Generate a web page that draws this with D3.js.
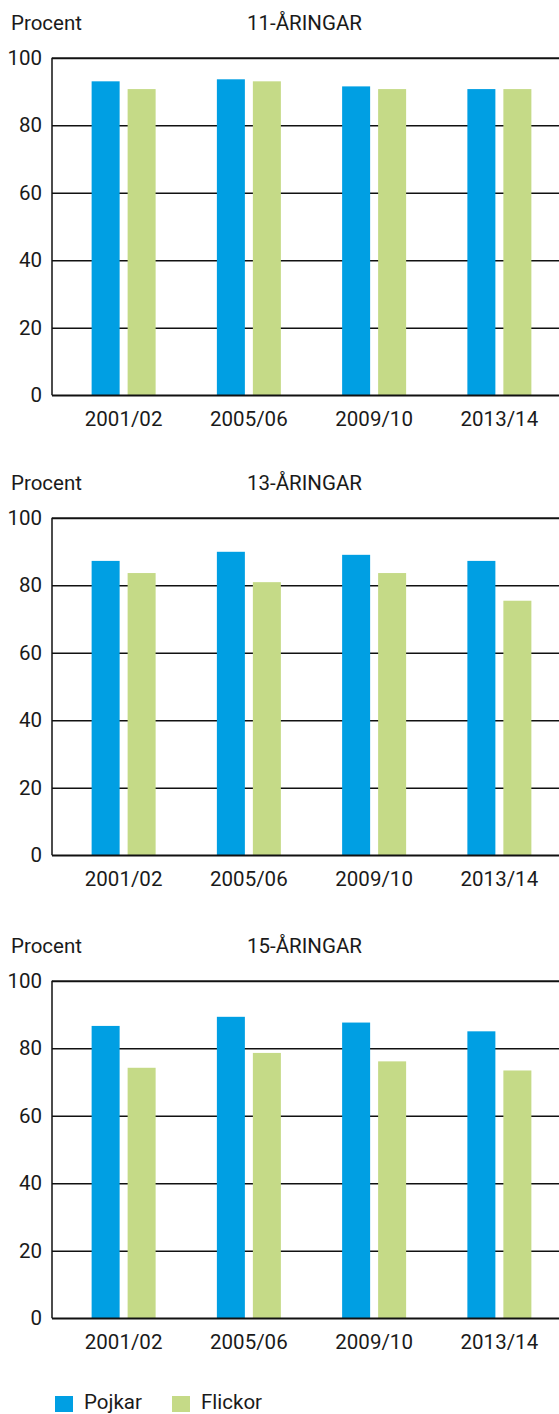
<!DOCTYPE html>
<html>
<head>
<meta charset="utf-8">
<script src="https://cdn.jsdelivr.net/npm/d3@7"></script>
<style>
  body { margin: 0; background: #fff; }
  svg text { font-family: Roboto, "Noto Sans", sans-serif; fill: #1a1a1a; }
</style>
</head>
<body>
<div class="chart"></div>
<script>
// data
var periods = ["2001/02", "2005/06", "2009/10", "2013/14"];
var panelTitles = ["11-ÅRINGAR", "13-ÅRINGAR", "15-ÅRINGAR"];
var seriesNames = ["Pojkar", "Flickor"];
var pojkar11 = [93, 93.6, 91.5, 90.7];
var flickor11 = [90.7, 93, 90.7, 90.7];
var pojkar13 = [87.2, 89.9, 89, 87.2];
var flickor13 = [83.6, 80.9, 83.6, 75.4];
var pojkar15 = [86.6, 89.3, 87.6, 85];
var flickor15 = [74.2, 78.6, 76.1, 73.4];
var yTicks = [0, 20, 40, 60, 80, 100];

var panelData = [
  [pojkar11, flickor11],
  [pojkar13, flickor13],
  [pojkar15, flickor15]
];

var svgWidth = 559;
var svgHeight = 1414;
var colors = ["#009fe3", "#c5da87"];
var fontSize = "20.5px";

var axisX = 52;
var plotHeight = 337.5;
var panelTops = [57.7, 517.7, 980.7];

var svg = d3.select(".chart")
  .append("svg")
  .attr("width", svgWidth)
  .attr("height", svgHeight);

// category scale and inner scale for the two bars
var x0 = d3.scaleBand()
  .domain(periods)
  .range([61, 562]);

var x1 = d3.scaleBand()
  .domain(seriesNames)
  .range([-32, 32])
  .paddingInner(0.222);

var y = d3.scaleLinear()
  .domain([0, 100])
  .range([plotHeight, 0]);

panelData.forEach(function(series, p) {
  var g = svg.append("g")
    .attr("transform", `translate(0, ${panelTops[p]})`);

  // header texts
  g.append("text")
    .attr("x", 11)
    .attr("y", -28)
    .style("font-size", fontSize)
    .text("Procent");

  g.append("text")
    .attr("x", 247)
    .attr("y", -28)
    .style("font-size", fontSize)
    .text(panelTitles[p]);

  // gridlines + y labels
  var leftAxis = d3.axisLeft(y)
    .tickValues(yTicks)
    .tickSize(-(svgWidth - axisX))
    .tickPadding(10);

  var yAxis = g.append("g")
    .attr("transform", `translate(${axisX}, 0)`)
    .call(leftAxis);
  yAxis.select(".domain").remove();
  yAxis.selectAll("line")
    .attr("stroke", "#111")
    .attr("stroke-width", d => d === 100 ? 2 : 1.5);
  yAxis.selectAll("text")
    .style("font-size", fontSize)
    .attr("fill", "#1a1a1a");

  // bars
  var rows = periods.map(function(per, i) {
    return seriesNames.map(function(s, k) {
      return { period: per, name: s, value: series[k][i], k: k };
    });
  });

  g.selectAll(".grp")
    .data(rows)
    .enter()
    .append("g")
    .attr("transform", (d, i) => `translate(${x0(periods[i]) + x0.bandwidth() / 2}, 0)`)
    .selectAll("rect")
    .data(d => d)
    .enter()
    .append("rect")
    .attr("x", d => x1(d.name))
    .attr("width", x1.bandwidth())
    .attr("y", d => y(d.value))
    .attr("height", d => y(0) - y(d.value))
    .attr("fill", d => colors[d.k]);

  // y axis line
  g.append("line")
    .attr("x1", axisX).attr("x2", axisX)
    .attr("y1", 0).attr("y2", plotHeight)
    .attr("stroke", "#111")
    .attr("stroke-width", 1.5);

  // bottom line drawn again over the bars
  g.append("line")
    .attr("x1", axisX).attr("x2", svgWidth)
    .attr("y1", plotHeight).attr("y2", plotHeight)
    .attr("stroke", "#111")
    .attr("stroke-width", 1.5);

  // x labels
  var bottomAxis = d3.axisBottom(x0)
    .tickSize(0)
    .tickPadding(16);
  var xAxis = g.append("g")
    .attr("transform", `translate(0, ${plotHeight})`)
    .call(bottomAxis);
  xAxis.select(".domain").remove();
  xAxis.selectAll("text")
    .style("font-size", fontSize)
    .attr("fill", "#1a1a1a");
});

// legend
var legend = svg.append("g")
  .attr("transform", "translate(55, 1396)");

var legendX = [0, 117];
seriesNames.forEach(function(s, k) {
  legend.append("rect")
    .attr("x", legendX[k])
    .attr("y", 0)
    .attr("width", 18)
    .attr("height", 16)
    .attr("fill", colors[k]);
  legend.append("text")
    .attr("x", legendX[k] + 29)
    .attr("y", 13)
    .style("font-size", fontSize)
    .text(s);
});
</script>
</body>
</html>
